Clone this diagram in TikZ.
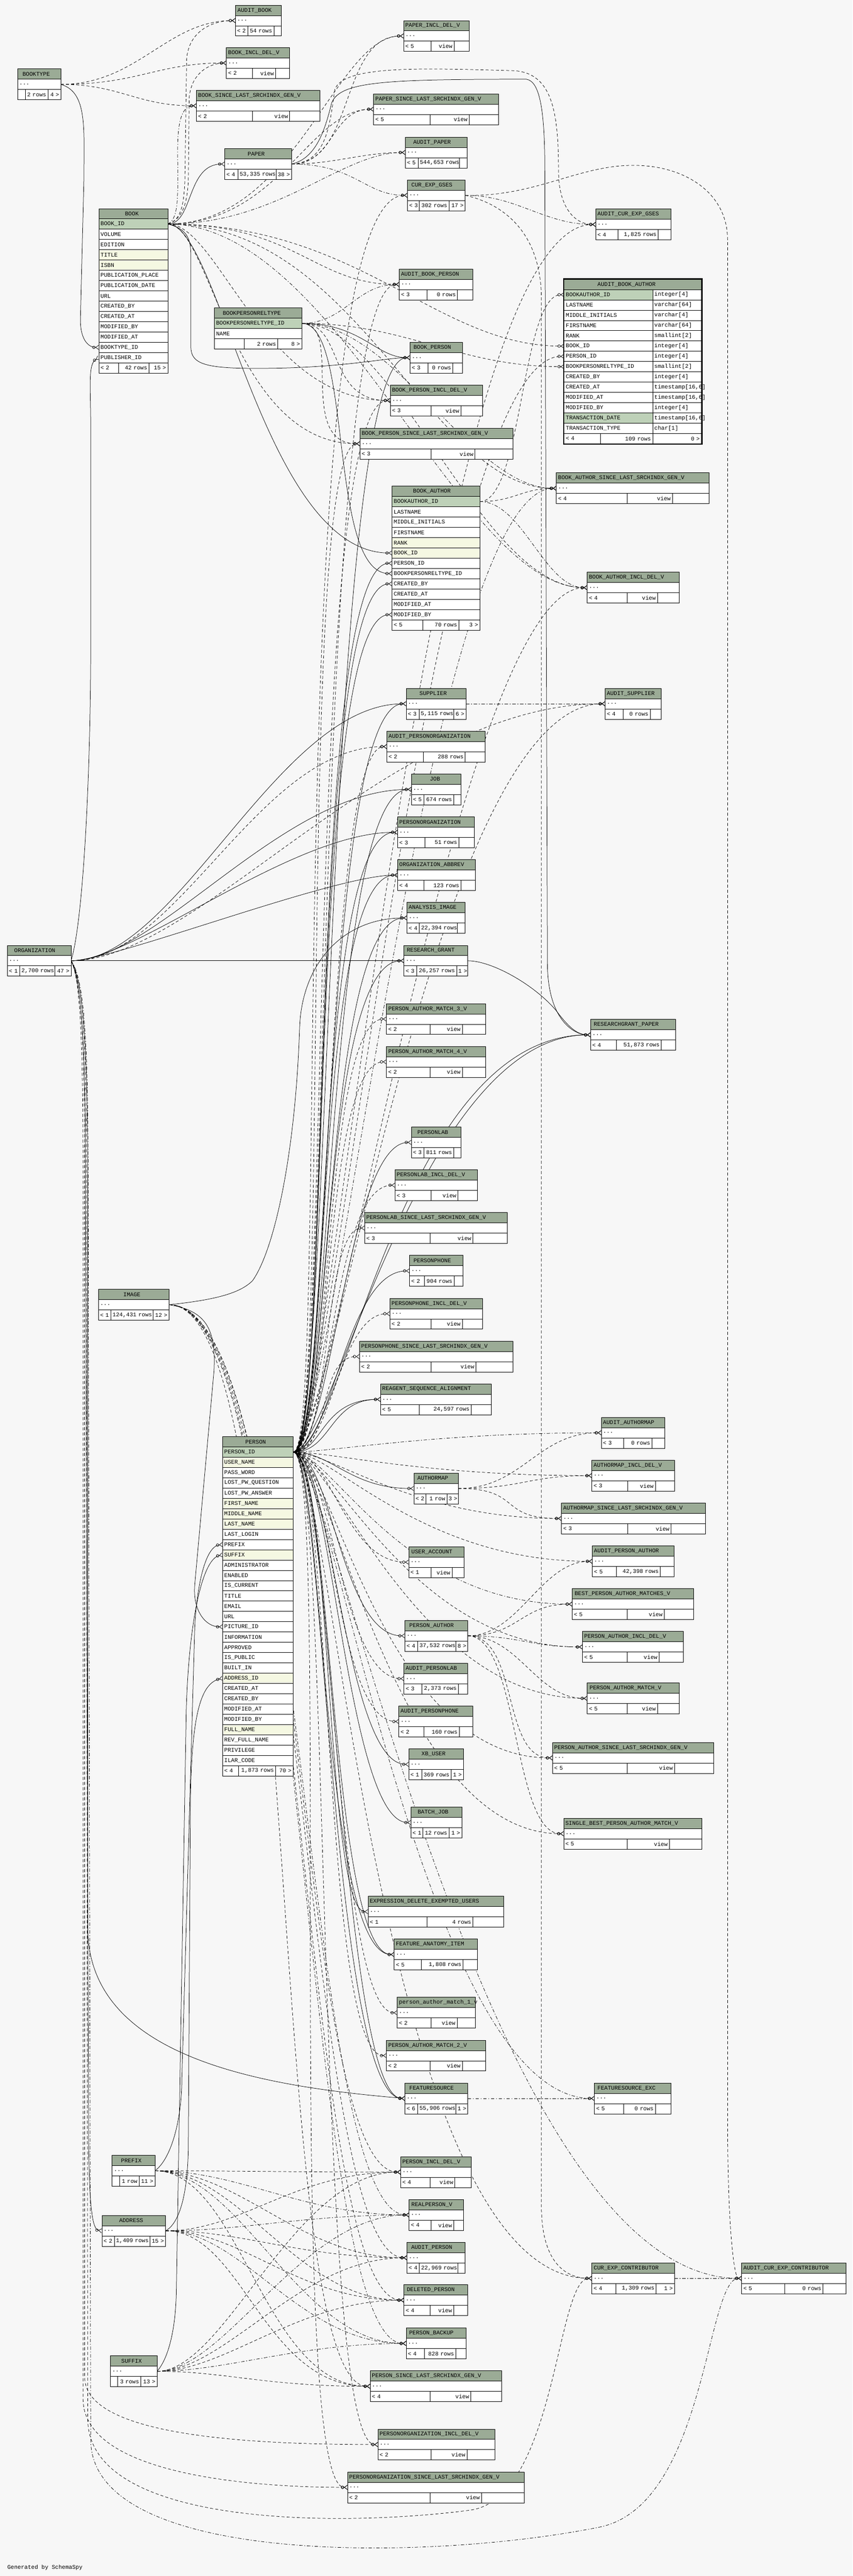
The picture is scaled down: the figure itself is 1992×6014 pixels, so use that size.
\documentclass[tikz,border=0pt]{standalone}
\usepackage{fontspec}
\setmonofont{Liberation Mono}
\usetikzlibrary{arrows.meta}
\definecolor{bgc}{HTML}{F7F7F7}
\definecolor{hdc}{HTML}{9BAB96}
\definecolor{pkc}{HTML}{BED1B8}
\definecolor{ixc}{HTML}{F5F8E2}
\newcommand\tf{\ttfamily\fontsize{13.3pt}{16pt}\selectfont}
\pgfdeclarelayer{back}
\pgfdeclarelayer{edges}
\pgfsetlayers{back,edges,main}
\tikzset{
  cellbox/.style={draw=black, line width=0.9pt, anchor=north west, minimum height=24pt,
    inner xsep=4pt, inner ysep=0pt, outer sep=0pt, font=\tf, align=left},
  rel/.style={line width=0.9pt, -{Circle[open,length=7pt,width=7pt] Straight Barb[reversed,length=7pt,width=10pt]}},
  fk/.style={rel},
  im/.style={rel, dash pattern=on 7pt off 5pt},
  dd/.style={rel, dash pattern=on 8pt off 4pt on 2pt off 4pt},
}
\makeatletter
\newcount\tcnt
\newcommand\tcount[1]{\tcnt=0 \@tfor\tmpc:=#1\do{\advance\tcnt by 1 }}
\makeatother
% header: id x y w title
\newcommand\thead[5]{%
  \def\cid{#1}\def\cx{#2}\def\cw{#4}%
  \tcount{#5}\edef\tnum{\the\tcnt}%
  \pgfmathsetmacro\tpad{max(0,(#4-9.7*\tnum)/2-4)}%
  \pgfmathsetmacro\tw{#4-8}%
  \node[cellbox, fill=hdc, text width=\tw pt] (#1-h) at (#2,#3) {\hspace*{\tpad pt}\mbox{#5}};%
}
% simple table with "..." row
\newcommand\stbl[5]{%
  \thead{#1}{#2}{#3}{#4}{#5}%
  \pgfmathsetmacro\ya{#3+24}%
  \node[cellbox, fill=white, text width=\tw pt] (#1-r1) at (#2,\ya) {\mbox{...}};%
  \pgfmathsetmacro\fy{#3+48}%
}
% table with columns
\newcommand\ctbl[6]{%
  \thead{#1}{#2}{#3}{#4}{#5}%
  \foreach \nm/\fc [count=\i] in {#6} {
    \pgfmathsetmacro\ry{#3+24*\i}
    \node[cellbox, fill=\fc, text width=\tw pt] (#1-r\i) at (#2,\ry) {\mbox{\nm}};
    \xdef\nrows{\i}
  }%
  \pgfmathsetmacro\fy{#3+24*(\nrows+1)}%
}
% footer: y d1 d2 L M R
\newcommand\tfoot[6]{%
  \pgfmathsetmacro\wa{#2-\cx-8}%
  \pgfmathsetmacro\wb{#3-#2-8}%
  \pgfmathsetmacro\wc{\cx+\cw-#3-8}%
  \node[cellbox, fill=white, text width=\wa pt] (\cid-fl) at (\cx,#1) {\mbox{#4}};%
  \node[cellbox, fill=white, text width=\wb pt, align=right] (\cid-fm) at (#2,#1) {\mbox{#5}};%
  \node[cellbox, fill=white, text width=\wc pt, align=right] (\cid-fr) at (#3,#1) {\mbox{#6}};%
}
\newcommand\ed[5]{\draw[#1] (#2) .. controls +(#4,0) and +(-#5,0) .. (#3);}
\catcode`\_=12
\begin{document}
\begin{tikzpicture}[x=1pt,y=-1pt]
\useasboundingbox (0,0) rectangle (1992,6014);
\begin{pgfonlayer}{back}
\fill[bgc] (0,0) rectangle (1992,6014);
\end{pgfonlayer}

% ---------------- tables ----------------
\stbl{aBook}{550}{12}{107}{AUDIT_BOOK}\tfoot{\fy}{579}{640}{< 2}{54 rows}{}
\stbl{bookInc}{529}{111}{148}{BOOK_INCL_DEL_V}\tfoot{\fy}{590}{644}{< 2}{view}{}
\stbl{bookType}{41}{161}{101}{BOOKTYPE}\tfoot{\fy}{59}{112}{}{2 rows}{4 >}
\stbl{bookSince}{459}{211}{288}{BOOK_SINCE_LAST_SRCHINDX_GEN_V}\tfoot{\fy}{590}{677}{< 2}{view}{}
\stbl{paper}{525}{347}{156}{PAPER}\tfoot{\fy}{556}{645}{< 4}{53,335 rows}{38 >}
\stbl{paperInc}{943}{48}{153}{PAPER_INCL_DEL_V}\tfoot{\fy}{1007}{1061}{< 5}{view}{}
\stbl{paperSince}{873}{219}{292}{PAPER_SINCE_LAST_SRCHINDX_GEN_V}\tfoot{\fy}{1005}{1096}{< 5}{view}{}
\stbl{aPaper}{947}{320}{144}{AUDIT_PAPER}\tfoot{\fy}{977}{1073}{< 5}{544,653 rows}{}
\stbl{ceg}{952}{420}{135}{CUR_EXP_GSES}\tfoot{\fy}{980}{1049}{< 3}{302 rows}{17 >}
\stbl{aCeg}{1392}{488}{176}{AUDIT_CUR_EXP_GSES}\tfoot{\fy}{1444}{1538}{< 4}{1,825 rows}{}
\stbl{aBookPerson}{933}{628}{172}{AUDIT_BOOK_PERSON}\tfoot{\fy}{998}{1069}{< 3}{0 rows}{}
\stbl{bookPerson}{958}{799}{123}{BOOK_PERSON}\tfoot{\fy}{1000}{1058}{< 3}{0 rows}{}
\stbl{bpInc}{912}{899}{216}{BOOK_PERSON_INCL_DEL_V}\tfoot{\fy}{1007}{1077}{< 3}{view}{}
\stbl{bpSince}{841}{1000}{358}{BOOK_PERSON_SINCE_LAST_SRCHINDX_GEN_V}\tfoot{\fy}{1007}{1110}{< 3}{view}{}
\stbl{baSince}{1300}{1104}{357}{BOOK_AUTHOR_SINCE_LAST_SRCHINDX_GEN_V}\tfoot{\fy}{1465}{1571}{< 4}{view}{}
\stbl{baInc}{1372}{1336}{215}{BOOK_AUTHOR_INCL_DEL_V}\tfoot{\fy}{1465}{1536}{< 4}{view}{}
\stbl{supplier}{949}{1607}{140}{SUPPLIER}\tfoot{\fy}{979}{1060}{< 3}{5,115 rows}{6 >}
\stbl{aSupplier}{1414}{1607}{131}{AUDIT_SUPPLIER}\tfoot{\fy}{1456}{1519}{< 4}{0 rows}{}
\stbl{aPO}{904}{1707}{229}{AUDIT_PERSONORGANIZATION}\tfoot{\fy}{989}{1087}{< 2}{288 rows}{}
\stbl{job}{961}{1807}{116}{JOB}\tfoot{\fy}{990}{1060}{< 5}{674 rows}{}
\stbl{po}{929}{1907}{179}{PERSONORGANIZATION}\tfoot{\fy}{993}{1072}{< 3}{51 rows}{}
\stbl{orgAbbrev}{929}{2007}{182}{ORGANIZATION_ABBREV}\tfoot{\fy}{990}{1077}{< 4}{123 rows}{}
\stbl{analysisImage}{951}{2107}{136}{ANALYSIS_IMAGE}\tfoot{\fy}{980}{1069}{< 4}{22,394 rows}{}
\stbl{rg}{944}{2207}{149}{RESEARCH_GRANT}\tfoot{\fy}{973}{1067}{< 3}{26,257 rows}{1 >}
\stbl{org}{17}{2207}{149}{ORGANIZATION}\tfoot{\fy}{46}{128}{< 1}{2,700 rows}{47 >}
\stbl{pam3}{903}{2343}{232}{PERSON_AUTHOR_MATCH_3_V}\tfoot{\fy}{1005}{1080}{< 2}{view}{}
\stbl{rgp}{1380}{2380}{199}{RESEARCHGRANT_PAPER}\tfoot{\fy}{1440}{1545}{< 4}{51,873 rows}{}
\stbl{pam4}{903}{2443}{232}{PERSON_AUTHOR_MATCH_4_V}\tfoot{\fy}{1005}{1080}{< 2}{view}{}
\stbl{plab}{961}{2631}{116}{PERSONLAB}\tfoot{\fy}{990}{1060}{< 3}{811 rows}{}
\stbl{plabInc}{923}{2731}{193}{PERSONLAB_INCL_DEL_V}\tfoot{\fy}{1007}{1070}{< 3}{view}{}
\stbl{plabSince}{852}{2831}{333}{PERSONLAB_SINCE_LAST_SRCHINDX_GEN_V}\tfoot{\fy}{1005}{1105}{< 3}{view}{}
\stbl{pphone}{957}{2931}{125}{PERSONPHONE}\tfoot{\fy}{991}{1061}{< 2}{904 rows}{}
\stbl{pphoneInc}{911}{3031}{217}{PERSONPHONE_INCL_DEL_V}\tfoot{\fy}{1007}{1080}{< 2}{view}{}
\stbl{pphoneSince}{840}{3131}{359}{PERSONPHONE_SINCE_LAST_SRCHINDX_GEN_V}\tfoot{\fy}{1007}{1112}{< 2}{view}{}
\stbl{image}{230}{3010}{165}{IMAGE}\tfoot{\fy}{259}{358}{< 1}{124,431 rows}{12 >}
\stbl{rsa}{889}{3231}{259}{REAGENT_SEQUENCE_ALIGNMENT}\tfoot{\fy}{980}{1101}{< 5}{24,597 rows}{}
\stbl{aAuthormap}{1405}{3309}{148}{AUDIT_AUTHORMAP}\tfoot{\fy}{1457}{1523}{< 3}{0 rows}{}
\stbl{amInc}{1383}{3409}{193}{AUTHORMAP_INCL_DEL_V}\tfoot{\fy}{1467}{1531}{< 3}{view}{}
\stbl{authormap}{967}{3439}{104}{AUTHORMAP}\tfoot{\fy}{995}{1044}{< 2}{1 row}{3 >}
\stbl{amSince}{1312}{3509}{336}{AUTHORMAP_SINCE_LAST_SRCHINDX_GEN_V}\tfoot{\fy}{1467}{1568}{< 3}{view}{}
\stbl{userAccount}{955}{3611}{129}{USER_ACCOUNT}\tfoot{\fy}{1007}{1056}{< 1}{view}{}
\stbl{aPA}{1384}{3609}{191}{AUDIT_PERSON_AUTHOR}\tfoot{\fy}{1440}{1543}{< 5}{42,398 rows}{}
\stbl{bestPam}{1337}{3709}{283}{BEST_PERSON_AUTHOR_MATCHES_V}\tfoot{\fy}{1465}{1552}{< 5}{view}{}
\stbl{pa}{946}{3783}{147}{PERSON_AUTHOR}\tfoot{\fy}{976}{1065}{< 4}{37,532 rows}{8 >}
\stbl{paInc}{1361}{3809}{236}{PERSON_AUTHOR_INCL_DEL_V}\tfoot{\fy}{1465}{1540}{< 5}{view}{}
\stbl{aPlab}{944}{3883}{149}{AUDIT_PERSONLAB}\tfoot{\fy}{985}{1071}{< 3}{2,373 rows}{}
\stbl{pam}{1372}{3929}{215}{PERSON_AUTHOR_MATCH_V}\tfoot{\fy}{1465}{1536}{< 5}{view}{}
\stbl{aPphone}{932}{3983}{173}{AUDIT_PERSONPHONE}\tfoot{\fy}{990}{1073}{< 2}{160 rows}{}
\stbl{paSince}{1291}{4068}{376}{PERSON_AUTHOR_SINCE_LAST_SRCHINDX_GEN_V}\tfoot{\fy}{1465}{1576}{< 5}{view}{}
\stbl{xbUser}{955}{4083}{128}{XB_USER}\tfoot{\fy}{985}{1054}{< 1}{369 rows}{1 >}
\stbl{batchJob}{960}{4219}{119}{BATCH_JOB}\tfoot{\fy}{988}{1049}{< 1}{12 rows}{1 >}
\stbl{singleBest}{1317}{4245}{323}{SINGLE_BEST_PERSON_AUTHOR_MATCH_V}\tfoot{\fy}{1465}{1564}{< 5}{view}{}
\stbl{exprDel}{860}{4427}{317}{EXPRESSION_DELETE_EXEMPTED_USERS}\tfoot{\fy}{997}{1105}{< 1}{4 rows}{}
\stbl{fai}{921}{4527}{195}{FEATURE_ANATOMY_ITEM}\tfoot{\fy}{984}{1082}{< 5}{1,808 rows}{}
\stbl{pam1}{928}{4663}{183}{person_author_match_1_v}\tfoot{\fy}{1007}{1068}{< 2}{view}{}
\stbl{pam2}{903}{4763}{232}{PERSON_AUTHOR_MATCH_2_V}\tfoot{\fy}{1005}{1080}{< 2}{view}{}
\stbl{fs}{946}{4863}{147}{FEATURESOURCE}\tfoot{\fy}{976}{1065}{< 6}{55,906 rows}{1 >}
\stbl{fsExc}{1389}{4863}{179}{FEATURESOURCE_EXC}\tfoot{\fy}{1457}{1531}{< 5}{0 rows}{}
\stbl{prefix}{262}{5032}{100}{PREFIX}\tfoot{\fy}{279}{325}{}{1 row}{11 >}
\stbl{personInc}{936}{5035}{165}{PERSON_INCL_DEL_V}\tfoot{\fy}{1005}{1063}{< 4}{view}{}
\stbl{realPerson}{956}{5135}{127}{REALPERSON_V}\tfoot{\fy}{1007}{1060}{< 4}{view}{}
\stbl{address}{238}{5172}{149}{ADDRESS}\tfoot{\fy}{267}{350}{< 2}{1,409 rows}{15 >}
\stbl{aPerson}{951}{5235}{136}{AUDIT_PERSON}\tfoot{\fy}{980}{1070}{< 4}{22,969 rows}{}
\stbl{cec}{1383}{5283}{193}{CUR_EXP_CONTRIBUTOR}\tfoot{\fy}{1439}{1533}{< 4}{1,309 rows}{1 >}
\stbl{aCec}{1733}{5283}{244}{AUDIT_CUR_EXP_CONTRIBUTOR}\tfoot{\fy}{1834}{1923}{< 5}{0 rows}{}
\stbl{delPerson}{944}{5334}{149}{DELETED_PERSON}\tfoot{\fy}{1005}{1060}{< 4}{view}{}
\stbl{personBackup}{949}{5435}{140}{PERSON_BACKUP}\tfoot{\fy}{991}{1065}{< 4}{828 rows}{}
\stbl{suffix}{258}{5500}{109}{SUFFIX}\tfoot{\fy}{275}{329}{}{3 rows}{13 >}
\stbl{personSince}{865}{5535}{307}{PERSON_SINCE_LAST_SRCHINDX_GEN_V}\tfoot{\fy}{1005}{1100}{< 4}{view}{}
\stbl{poInc}{883}{5671}{273}{PERSONORGANIZATION_INCL_DEL_V}\tfoot{\fy}{1007}{1091}{< 2}{view}{}
\stbl{poSince}{812}{5771}{413}{PERSONORGANIZATION_SINCE_LAST_SRCHINDX_GEN_V}\tfoot{\fy}{1005}{1125}{< 2}{view}{}

\ctbl{book}{231}{487}{161}{BOOK}{BOOK_ID/pkc, VOLUME/white, EDITION/white, TITLE/ixc, ISBN/ixc, PUBLICATION_PLACE/white, PUBLICATION_DATE/white, URL/white, CREATED_BY/white, CREATED_AT/white, MODIFIED_BY/white, MODIFIED_AT/white, BOOKTYPE_ID/white, PUBLISHER_ID/white}
\tfoot{\fy}{277}{348}{< 2}{42 rows}{15 >}
\ctbl{bprt}{501}{719}{204}{BOOKPERSONRELTYPE}{BOOKPERSONRELTYPE_ID/pkc, NAME/white}
\tfoot{\fy}{570}{649}{}{2 rows}{8 >}
\ctbl{bookAuthor}{916}{1135}{205}{BOOK_AUTHOR}{BOOKAUTHOR_ID/pkc, LASTNAME/white, MIDDLE_INITIALS/white, FIRSTNAME/white, RANK/ixc, BOOK_ID/ixc, PERSON_ID/white, BOOKPERSONRELTYPE_ID/white, CREATED_BY/white, CREATED_AT/white, MODIFIED_AT/white, MODIFIED_BY/white}
\tfoot{\fy}{988}{1072}{< 5}{70 rows}{3 >}
\ctbl{person}{520}{3354}{165}{PERSON}{PERSON_ID/pkc, USER_NAME/ixc, PASS_WORD/white, LOST_PW_QUESTION/white, LOST_PW_ANSWER/white, FIRST_NAME/ixc, MIDDLE_NAME/ixc, LAST_NAME/ixc, LAST_LOGIN/white, PREFIX/white, SUFFIX/ixc, ADMINISTRATOR/white, ENABLED/white, IS_CURRENT/white, TITLE/white, EMAIL/white, URL/white, PICTURE_ID/white, INFORMATION/white, APPROVED/white, IS_PUBLIC/white, BUILT_IN/white, ADDRESS_ID/ixc, CREATED_AT/white, CREATED_BY/white, MODIFIED_AT/white, MODIFIED_BY/white, FULL_NAME/ixc, REV_FULL_NAME/white, PRIVILEGE/white, ILAR_CODE/white}
\tfoot{\fy}{557}{644}{< 4}{1,873 rows}{70 >}

% focus table with types
\thead{aBookAuthor}{1318}{652}{321}{AUDIT_BOOK_AUTHOR}
\foreach \nm/\ty/\fc [count=\i] in {BOOKAUTHOR_ID/integer[4]/pkc, LASTNAME/varchar[64]/white, MIDDLE_INITIALS/varchar[4]/white, FIRSTNAME/varchar[64]/white, RANK/smallint[2]/white, BOOK_ID/integer[4]/white, PERSON_ID/integer[4]/white, BOOKPERSONRELTYPE_ID/smallint[2]/white, CREATED_BY/integer[4]/white, CREATED_AT/{timestamp[16,6]}/white, MODIFIED_AT/{timestamp[16,6]}/white, MODIFIED_BY/integer[4]/white, TRANSACTION_DATE/{timestamp[16,6]}/pkc, TRANSACTION_TYPE/char[1]/white} {
  \pgfmathsetmacro\ry{652+24*\i}
  \node[cellbox, fill=\fc, text width=199pt] (aBookAuthor-r\i) at (1318,\ry) {\mbox{\nm}};
  \node[cellbox, fill=white, text width=106pt] (aBookAuthor-t\i) at (1525,\ry) {\mbox{\ty}};
}
\def\cid{aBookAuthor}\def\cx{1318}\def\cw{321}
\tfoot{1012}{1403}{1525}{< 4}{109 rows}{0 >}
\draw[line width=2.6pt] (1317,651) rectangle (1640,1037);

\node[anchor=west, font=\tf, inner sep=0pt] (credit) at (17,5994) {Generated by SchemaSpy};

% ---------------- connectors ----------------
\begin{pgfonlayer}{edges}
% BOOKTYPE
\draw[fk] (bookType-r1.east) .. controls (205,215) and (196,300) .. (196,420) -- (188,740) .. controls (186,790) and (205,811) .. (book-r13.west);
\ed{im}{bookType-r1.east}{aBook-r1.west}{180}{160}
\ed{im}{bookType-r1.east}{bookInc-r1.west}{180}{160}
\ed{im}{bookType-r1.east}{bookSince-r1.west}{140}{140}
% BOOK
\ed{fk}{book-r1.east}{paper-r1.west}{60}{90}
\draw[im] (book-r1.east) .. controls (425,515) and (430,470) .. (432,420) -- (436,140) .. controls (440,70) and (500,48) .. (aBook-r1.west);
\draw[im] (book-r1.east) .. controls (428,512) and (438,470) .. (440,420) -- (442,230) .. controls (446,170) and (490,148) .. (bookInc-r1.west);
\draw[dd] (book-r1.east) .. controls (420,510) and (415,450) .. (415,350) .. controls (415,270) and (430,247) .. (bookSince-r1.west);
\ed{im}{book-r1.east}{paperInc-r1.west}{300}{160}
\ed{im}{book-r1.east}{paperSince-r1.west}{260}{150}
\ed{dd}{book-r1.east}{aPaper-r1.west}{260}{150}
\ed{im}{book-r1.east}{aBookPerson-r1.west}{300}{200}
\draw[fk] (book-r1.east) .. controls (440,535) and (446,560) .. (446,600) -- (446,810) .. controls (446,850) and (480,860) .. (600,860) .. controls (800,860) and (900,835) .. (bookPerson-r1.west);
\ed{im}{book-r1.east}{bpInc-r1.west}{120}{300}
\ed{im}{book-r1.east}{bpSince-r1.west}{100}{300}
\ed{fk}{book-r1.east}{bookAuthor-r6.west}{120}{300}
\ed{im}{book-r1.east}{aBookAuthor-r6.west}{450}{300}
\ed{im}{book-r1.east}{baSince-r1.west}{450}{300}
\ed{dd}{book-r1.east}{baInc-r1.west}{400}{300}
% PAPER
\ed{im}{paper-r1.east}{paperInc-r1.west}{150}{150}
\ed{im}{paper-r1.east}{paperSince-r1.west}{100}{100}
\ed{im}{paper-r1.east}{aPaper-r1.west}{100}{100}
\ed{dd}{paper-r1.east}{ceg-r1.west}{150}{100}
\draw[im] (paper-r1.east) .. controls (760,380) and (770,300) .. (782,210) .. controls (800,150) and (1000,160) .. (1200,165) .. controls (1290,170) and (1305,260) .. (1305,400) .. controls (1305,480) and (1340,524) .. (aCeg-r1.west);
\draw[fk] (paper-r1.east) .. controls (740,370) and (760,300) .. (775,240) .. controls (795,190) and (900,185) .. (1230,185) .. controls (1262,190) and (1273,260) .. (1273,400) -- (1279,2250) .. controls (1280,2380) and (1340,2416) .. (rgp-r1.west);
% BOOKPERSONRELTYPE
\ed{fk}{bprt-r1.east}{bookPerson-r1.west}{140}{80}
\ed{fk}{bprt-r1.east}{bookAuthor-r8.west}{120}{150}
\ed{im}{bprt-r1.east}{aBookAuthor-r8.west}{250}{250}
\ed{dd}{bprt-r1.east}{aBookPerson-r1.west}{100}{100}
\ed{im}{bprt-r1.east}{bpInc-r1.west}{100}{150}
\ed{im}{bprt-r1.east}{bpSince-r1.west}{100}{150}
\ed{im}{bprt-r1.east}{baInc-r1.west}{220}{250}
\ed{dd}{bprt-r1.east}{baSince-r1.west}{220}{200}
% BOOK_AUTHOR
\ed{im}{bookAuthor-r1.east}{aBookAuthor-r1.west}{100}{100}
\ed{im}{bookAuthor-r1.east}{baSince-r1.west}{80}{80}
\ed{dd}{bookAuthor-r1.east}{baInc-r1.west}{100}{100}
% CUR_EXP_GSES
\ed{dd}{ceg-r1.east}{aCeg-r1.west}{120}{120}
\draw[im] (ceg-r1.east) .. controls (1250,460) and (1350,386) .. (1480,386) .. controls (1600,386) and (1700,450) .. (1700,560) -- (1700,4950) .. controls (1700,5200) and (1715,5319) .. (aCec-r1.west);
\draw[im] (ceg-r1.east) .. controls (1150,470) and (1265,520) .. (1265,700) -- (1265,5150) .. controls (1265,5280) and (1320,5319) .. (cec-r1.west);
% ORGANIZATION
\draw[fk] (org-r1.east) .. controls (195,2150) and (212,1800) .. (212,1500) -- (212,1000) .. controls (212,900) and (205,850) .. (book-r14.west);
\draw[fk] (org-r1.east) -- (rg-r1.west);
\foreach \es/\et/\ea/\eb in {fk/supplier-r1/250/300, im/aSupplier-r1/300/500, im/aPO-r1/250/300, fk/job-r1/200/300, fk/po-r1/150/250, fk/orgAbbrev-r1/100/150}
  \draw[\es] (org-r1.east) .. controls +(\ea,0) and +(-\eb,0) .. (\et.west);
\draw[fk] (org-r1.east) .. controls (200,2300) and (205,2500) .. (205,2800) -- (205,4500) .. controls (205,4800) and (600,4870) .. (fs-r1.west);
\draw[fk] (org-r1.east) .. controls (195,2300) and (200,2500) .. (200,2800) -- (207,5000) .. controls (209,5150) and (215,5205) .. (address-r1.west);
\draw[im] (org-r1.east) .. controls (195,2290) and (198,2500) .. (198,2800) -- (198,5550) .. controls (198,5690) and (600,5707) .. (poInc-r1.west);
\draw[im] (org-r1.east) .. controls (192,2290) and (194,2500) .. (194,2800) -- (194,5600) .. controls (194,5780) and (600,5807) .. (poSince-r1.west);
\draw[im] (org-r1.east) .. controls (200,2290) and (202,2500) .. (202,2800) -- (205,5650) .. controls (210,5900) and (800,5900) .. (1100,5860) .. controls (1300,5830) and (1300,5319) .. (cec-r1.west);
\draw[dd] (org-r1.east) .. controls (203,2290) and (206,2500) .. (206,2800) -- (212,5700) .. controls (220,5990) and (1000,5980) .. (1400,5900) .. controls (1650,5850) and (1650,5319) .. (aCec-r1.west);
% PERSON fan
\foreach \es/\et/\ea/\eb in {fk/bookPerson-r1/90/200, im/aBookPerson-r1/90/200, im/bpInc-r1/90/200, im/bpSince-r1/90/150, im/aBookAuthor-r7/90/320, fk/bookAuthor-r7/90/200, fk/bookAuthor-r9/90/200, fk/bookAuthor-r12/90/200, im/baInc-r1/90/300, dd/baSince-r1/90/300, fk/supplier-r1/90/200, im/aSupplier-r1/90/400, im/aPO-r1/90/150, fk/job-r1/90/200, fk/po-r1/90/200, fk/orgAbbrev-r1/90/200, fk/analysisImage-r1/90/200, fk/rg-r1/90/200, im/pam3-r1/90/150, im/pam4-r1/90/150, fk/rgp-r1/90/400, fk/rgp-r1/120/450, fk/plab-r1/90/150, im/plabInc-r1/90/150, im/plabSince-r1/90/100, fk/pphone-r1/90/150, im/pphoneInc-r1/90/120, im/pphoneSince-r1/90/100, fk/rsa-r1/90/120, fk/rsa-r1/70/140, dd/aAuthormap-r1/90/400, im/amInc-r1/90/400, fk/authormap-r1/90/150, im/amSince-r1/90/350, im/userAccount-r1/90/150, im/aPA-r1/90/400, dd/bestPam-r1/90/400, fk/pa-r1/90/150, im/paInc-r1/90/400, im/aPlab-r1/90/150, im/pam-r1/90/400, im/aPphone-r1/90/150, im/paSince-r1/90/400, fk/xbUser-r1/90/150, fk/batchJob-r1/90/150, im/singleBest-r1/90/400, fk/exprDel-r1/90/100, fk/fai-r1/90/150, fk/fai-r1/70/170, im/pam1-r1/90/150, im/pam2-r1/90/150, fk/fs-r1/90/150, fk/fs-r1/70/170, dd/fsExc-r1/90/400, im/poInc-r1/90/150, im/poSince-r1/90/150, im/ceg-r1/90/300, im/aCeg-r1/90/400, im/cec-r1/90/500, dd/aCec-r1/90/600}
  \draw[\es] (person-r1.east) .. controls +(\ea,0) and +(-\eb,0) .. (\et.west);
% PREFIX / ADDRESS / SUFFIX / IMAGE into PERSON
\draw[fk] (prefix-r1.east) .. controls (400,5040) and (425,4950) .. (425,4850) -- (455,3800) .. controls (460,3700) and (480,3610) .. (person-r10.west);
\draw[fk] (suffix-r1.east) .. controls (390,5510) and (410,5450) .. (412,5350) -- (435,4000) .. controls (440,3800) and (470,3640) .. (person-r11.west);
\draw[fk] (address-r1.east) .. controls (420,5190) and (440,5120) .. (440,5000) -- (445,4200) .. controls (448,4000) and (470,3930) .. (person-r23.west);
\draw[fk] (image-r1.east) .. controls (480,3060) and (505,3100) .. (500,3200) -- (455,3700) .. controls (450,3760) and (480,3798) .. (person-r18.west);
\draw[fk] (image-r1.east) .. controls (500,3035) and (560,3020) .. (590,2990) .. controls (640,2920) and (690,2700) .. (700,2400) .. controls (705,2250) and (800,2143) .. (analysisImage-r1.west);
\foreach \ep/\ea in {prefix-r1/200, address-r1/180, suffix-r1/160, image-r1/320}
  \foreach \ev/\es in {personInc-r1/im, realPerson-r1/dd, aPerson-r1/im, delPerson-r1/im, personBackup-r1/dd, personSince-r1/im}
    \draw[\es] (\ep.east) .. controls +(\ea,0) and +(-250,0) .. (\ev.west);
% AUTHORMAP, PERSON_AUTHOR, others
\foreach \et in {aAuthormap-r1, amInc-r1, amSince-r1}
  \draw[im] (authormap-r1.east) .. controls +(150,0) and +(-150,0) .. (\et.west);
\foreach \es/\et in {im/aPA-r1, im/bestPam-r1, dd/paInc-r1, im/pam-r1, im/paSince-r1, im/singleBest-r1}
  \draw[\es] (pa-r1.east) .. controls +(120,0) and +(-120,0) .. (\et.west);
\draw[dd] (supplier-r1.east) -- (aSupplier-r1.west);
\draw[fk] (rg-r1.east) .. controls (1150,2243) and (1250,2300) .. (1300,2360) .. controls (1330,2400) and (1350,2416) .. (rgp-r1.west);
\draw[dd] (fs-r1.east) -- (fsExc-r1.west);
\draw[dd] (cec-r1.east) -- (aCec-r1.west);
\end{pgfonlayer}
\end{tikzpicture}
\end{document}
